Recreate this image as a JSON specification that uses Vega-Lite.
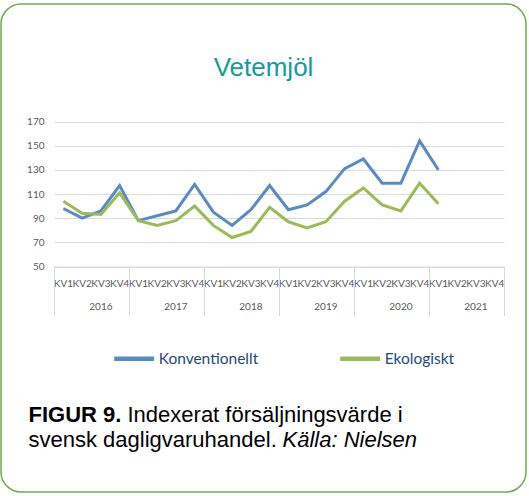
{
  "$schema": "https://vega.github.io/schema/vega-lite/v6.json",
  "width": 525,
  "height": 488,
  "autosize": {"type": "none"},
  "padding": {"left": 1, "top": 4, "right": 3, "bottom": 4},
  "background": "white",
  "title": {
    "text": "Vetemjöl",
    "orient": "top",
    "anchor": "middle",
    "frame": "group",
    "offset": -98,
    "baseline": "alphabetic",
    "font": "Liberation Sans",
    "fontSize": 26,
    "fontWeight": "normal",
    "color": "#17999E"
  },
  "config": {
    "view": {"stroke": "#71AB4F", "strokeWidth": 1.5, "cornerRadius": 20, "fill": "white"}
  },
  "data": {
    "values": [
      {"period": "2016 KV1", "series": "Konventionellt", "value": 98},
      {"period": "2016 KV2", "series": "Konventionellt", "value": 90},
      {"period": "2016 KV3", "series": "Konventionellt", "value": 96},
      {"period": "2016 KV4", "series": "Konventionellt", "value": 117},
      {"period": "2017 KV1", "series": "Konventionellt", "value": 88},
      {"period": "2017 KV2", "series": "Konventionellt", "value": 92},
      {"period": "2017 KV3", "series": "Konventionellt", "value": 96},
      {"period": "2017 KV4", "series": "Konventionellt", "value": 118},
      {"period": "2018 KV1", "series": "Konventionellt", "value": 95},
      {"period": "2018 KV2", "series": "Konventionellt", "value": 84},
      {"period": "2018 KV3", "series": "Konventionellt", "value": 97},
      {"period": "2018 KV4", "series": "Konventionellt", "value": 117},
      {"period": "2019 KV1", "series": "Konventionellt", "value": 97},
      {"period": "2019 KV2", "series": "Konventionellt", "value": 101},
      {"period": "2019 KV3", "series": "Konventionellt", "value": 112},
      {"period": "2019 KV4", "series": "Konventionellt", "value": 131},
      {"period": "2020 KV1", "series": "Konventionellt", "value": 139},
      {"period": "2020 KV2", "series": "Konventionellt", "value": 119},
      {"period": "2020 KV3", "series": "Konventionellt", "value": 119},
      {"period": "2020 KV4", "series": "Konventionellt", "value": 154},
      {"period": "2021 KV1", "series": "Konventionellt", "value": 130},
      {"period": "2016 KV1", "series": "Ekologiskt", "value": 104},
      {"period": "2016 KV2", "series": "Ekologiskt", "value": 94},
      {"period": "2016 KV3", "series": "Ekologiskt", "value": 93},
      {"period": "2016 KV4", "series": "Ekologiskt", "value": 111},
      {"period": "2017 KV1", "series": "Ekologiskt", "value": 88},
      {"period": "2017 KV2", "series": "Ekologiskt", "value": 84},
      {"period": "2017 KV3", "series": "Ekologiskt", "value": 88},
      {"period": "2017 KV4", "series": "Ekologiskt", "value": 100},
      {"period": "2018 KV1", "series": "Ekologiskt", "value": 84},
      {"period": "2018 KV2", "series": "Ekologiskt", "value": 74},
      {"period": "2018 KV3", "series": "Ekologiskt", "value": 79},
      {"period": "2018 KV4", "series": "Ekologiskt", "value": 99},
      {"period": "2019 KV1", "series": "Ekologiskt", "value": 87},
      {"period": "2019 KV2", "series": "Ekologiskt", "value": 82},
      {"period": "2019 KV3", "series": "Ekologiskt", "value": 87},
      {"period": "2019 KV4", "series": "Ekologiskt", "value": 104},
      {"period": "2020 KV1", "series": "Ekologiskt", "value": 115},
      {"period": "2020 KV2", "series": "Ekologiskt", "value": 101},
      {"period": "2020 KV3", "series": "Ekologiskt", "value": 96},
      {"period": "2020 KV4", "series": "Ekologiskt", "value": 119},
      {"period": "2021 KV1", "series": "Ekologiskt", "value": 102}
    ]
  },
  "layer": [
    {
      "mark": {"type": "line", "strokeWidth": 3},
      "encoding": {
        "x": {
          "field": "period",
          "type": "ordinal",
          "scale": {
            "type": "band",
            "domain": ["2016 KV1", "2016 KV2", "2016 KV3", "2016 KV4", "2017 KV1", "2017 KV2", "2017 KV3", "2017 KV4", "2018 KV1", "2018 KV2", "2018 KV3", "2018 KV4", "2019 KV1", "2019 KV2", "2019 KV3", "2019 KV4", "2020 KV1", "2020 KV2", "2020 KV3", "2020 KV4", "2021 KV1", "2021 KV2", "2021 KV3", "2021 KV4"],
            "range": [53, 503],
            "paddingInner": 0,
            "paddingOuter": 0
          },
          "axis": {
            "orient": "bottom",
            "offset": -225.5,
            "labelExpr": "split(datum.value, ' ')[1]",
            "labelAngle": 0,
            "labelFont": "Lato",
            "labelFontSize": 10,
            "labelColor": "#595959",
            "labelPadding": 17,
            "labelBaseline": "middle",
            "labelOverlap": false,
            "ticks": false,
            "tickSize": 0,
            "domainColor": "#d9d9d9",
            "grid": false,
            "title": "FIGUR 9.",
            "titleX": 27,
            "titleY": 154.5,
            "titleAlign": "left",
            "titleBaseline": "alphabetic",
            "titleFont": "Liberation Sans",
            "titleFontSize": 22,
            "titleFontWeight": "bold",
            "titleColor": "#000000"
          }
        },
        "y": {
          "field": "value",
          "type": "quantitative",
          "scale": {"domain": [50, 170], "range": [262.5, 117.5], "nice": false, "zero": false},
          "axis": {
            "orient": "left",
            "offset": -53,
            "values": [50, 70, 90, 110, 130, 150, 170],
            "title": null,
            "grid": true,
            "gridColor": "#d9d9d9",
            "domain": false,
            "ticks": false,
            "tickSize": 0,
            "labelPadding": 10,
            "labelFont": "Lato",
            "labelFontSize": 10,
            "labelColor": "#595959"
          }
        },
        "color": {
          "field": "series",
          "type": "nominal",
          "scale": {"domain": ["Konventionellt", "Ekologiskt"], "range": ["#5A8AC6", "#9BBB59"]},
          "legend": {
            "orient": "none",
            "legendX": 110.7,
            "legendY": 332,
            "direction": "horizontal",
            "title": null,
            "symbolType": "stroke",
            "symbolSize": 1600,
            "symbolStrokeWidth": 4.5,
            "labelFont": "Lato",
            "labelFontSize": 15.5,
            "labelColor": "#1F497D",
            "labelOffset": 2,
            "columnPadding": 72,
            "padding": 0
          }
        }
      }
    },
    {
      "data": {"values": []},
      "mark": {"type": "point"},
      "encoding": {
        "x": {
          "field": "period",
          "type": "ordinal",
          "axis": {
            "orient": "bottom",
            "offset": -225.5,
            "values": ["2016 KV3", "2017 KV3", "2018 KV3", "2019 KV3", "2020 KV3", "2021 KV3"],
            "bandPosition": 0,
            "labelExpr": "split(datum.value, ' ')[0]",
            "labelAngle": 0,
            "labelFont": "Lato",
            "labelFontSize": 10,
            "labelColor": "#595959",
            "labelPadding": 40,
            "labelBaseline": "middle",
            "labelOverlap": false,
            "domain": false,
            "ticks": false,
            "tickSize": 0,
            "grid": false,
            "title": "Indexerat försäljningsvärde i",
            "titleX": 126,
            "titleY": 154.5,
            "titleAlign": "left",
            "titleBaseline": "alphabetic",
            "titleFont": "Liberation Sans",
            "titleFontSize": 22,
            "titleFontWeight": "normal",
            "titleColor": "#000000"
          }
        }
      }
    },
    {
      "data": {"values": []},
      "mark": {"type": "point"},
      "encoding": {
        "x": {
          "field": "period",
          "type": "ordinal",
          "axis": {
            "orient": "bottom",
            "offset": -225.5,
            "values": ["2016 KV1", "2017 KV1", "2018 KV1", "2019 KV1", "2020 KV1", "2021 KV1"],
            "bandPosition": 0,
            "labels": false,
            "domain": false,
            "ticks": true,
            "tickSize": 49,
            "tickColor": "#d9d9d9",
            "tickWidth": 1,
            "grid": false,
            "title": "svensk dagligvaruhandel.",
            "titleX": 27,
            "titleY": 179.5,
            "titleAlign": "left",
            "titleBaseline": "alphabetic",
            "titleFont": "Liberation Sans",
            "titleFontSize": 22,
            "titleFontWeight": "normal",
            "titleColor": "#000000"
          }
        }
      }
    },
    {
      "data": {"values": []},
      "mark": {"type": "point"},
      "encoding": {
        "x": {
          "field": "period",
          "type": "ordinal",
          "axis": {
            "orient": "bottom",
            "offset": -225.5,
            "values": ["2021 KV4"],
            "bandPosition": 1,
            "labels": false,
            "domain": false,
            "ticks": true,
            "tickSize": 49,
            "tickColor": "#d9d9d9",
            "tickWidth": 1,
            "grid": false,
            "title": "Källa: Nielsen",
            "titleX": 281,
            "titleY": 179.5,
            "titleAlign": "left",
            "titleBaseline": "alphabetic",
            "titleFont": "Liberation Sans",
            "titleFontSize": 22,
            "titleFontWeight": "normal",
            "titleFontStyle": "italic",
            "titleColor": "#000000"
          }
        }
      }
    }
  ],
  "resolve": {"axis": {"x": "independent"}}
}
